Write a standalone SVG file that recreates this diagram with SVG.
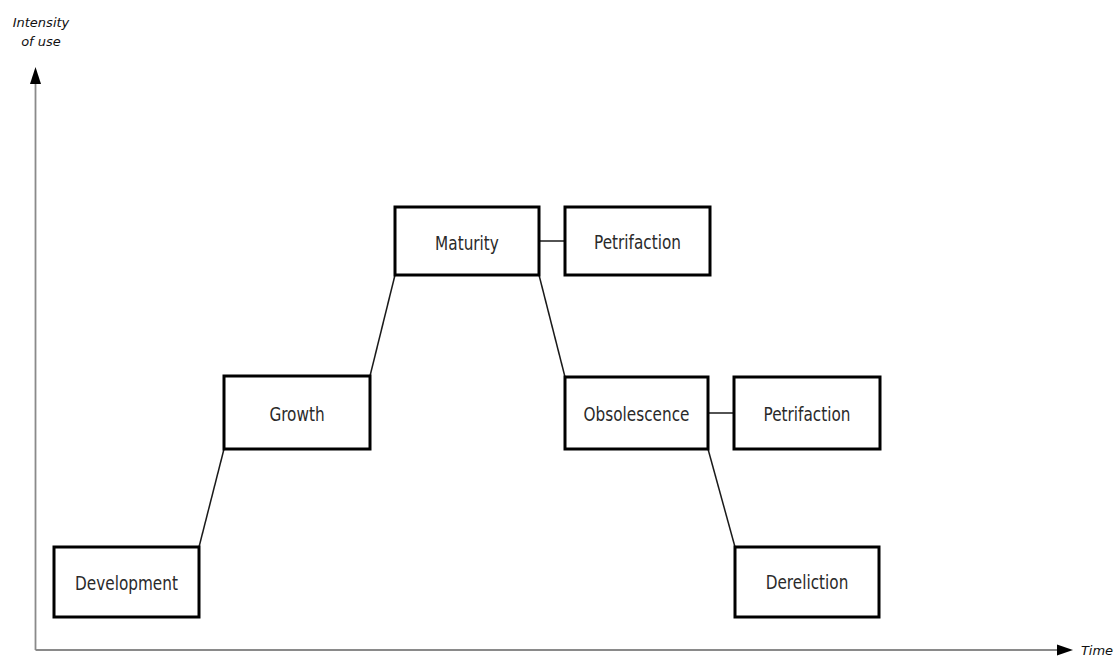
<svg xmlns="http://www.w3.org/2000/svg" width="1118" height="659" viewBox="0 0 1118 659">
  <style>
    .box { fill: #ffffff; stroke: #000000; stroke-width: 3; }
    .lbl { font-family: "DejaVu Sans Condensed", "DejaVu Sans", sans-serif; font-size: 17px; fill: #2a2a2a; text-anchor: middle; }
    .link { stroke: #1a1a1a; stroke-width: 1.5; fill: none; }
    .axis { stroke: #8a8a8a; stroke-width: 1.8; fill: none; }
    .axlbl { font-family: "DejaVu Sans", sans-serif; font-size: 13px; font-style: italic; fill: #111111; text-anchor: middle; }
  </style>
  <rect width="1118" height="659" fill="#ffffff"/>

  <!-- axes -->
  <g id="axes">
    <line class="axis" x1="35.5" y1="650" x2="35.5" y2="80"/>
    <polygon points="35.5,67 30,84 41,84" fill="#000000"/>
    <line class="axis" x1="35.5" y1="650" x2="1060" y2="650"/>
    <polygon points="1073,650 1057,644.5 1057,655.5" fill="#000000"/>
    <text class="axlbl" x="41" y="27">Intensity</text>
    <text class="axlbl" x="41" y="46">of use</text>
    <text class="axlbl" x="1097" y="655" font-size="12">Time</text>
  </g>

  <!-- connectors -->
  <g id="connectors">
    <line class="link" x1="199" y1="547" x2="224" y2="449"/>
    <line class="link" x1="370" y1="376" x2="395" y2="275"/>
    <line class="link" x1="539" y1="275" x2="565" y2="377"/>
    <line class="link" x1="539" y1="241" x2="565" y2="241"/>
    <line class="link" x1="708" y1="413" x2="734" y2="413"/>
    <line class="link" x1="708" y1="449" x2="735" y2="547"/>
  </g>

  <!-- labels are drawn slightly tall: scale(1,1.12) about the baseline -->
  <g id="development">
    <rect class="box" x="54" y="547" width="145" height="70"/>
    <text class="lbl" transform="translate(126.5,590) scale(1,1.12)">Development</text>
  </g>
  <g id="growth">
    <rect class="box" x="224" y="376" width="146" height="73"/>
    <text class="lbl" transform="translate(297,420.5) scale(1,1.12)">Growth</text>
  </g>
  <g id="maturity">
    <rect class="box" x="395" y="207" width="144" height="68"/>
    <text class="lbl" transform="translate(467,249.5) scale(1,1.12)">Maturity</text>
  </g>
  <g id="petrifaction-1">
    <rect class="box" x="565" y="207" width="145" height="68"/>
    <text class="lbl" transform="translate(637.5,248.5) scale(1,1.12)">Petrifaction</text>
  </g>
  <g id="obsolescence">
    <rect class="box" x="565" y="377" width="143" height="72"/>
    <text class="lbl" transform="translate(636.5,421) scale(1,1.12)">Obsolescence</text>
  </g>
  <g id="petrifaction-2">
    <rect class="box" x="734" y="377" width="146" height="72"/>
    <text class="lbl" transform="translate(807,421) scale(1,1.12)">Petrifaction</text>
  </g>
  <g id="dereliction">
    <rect class="box" x="735" y="547" width="144" height="70"/>
    <text class="lbl" transform="translate(807,589) scale(1,1.12)">Dereliction</text>
  </g>
</svg>
